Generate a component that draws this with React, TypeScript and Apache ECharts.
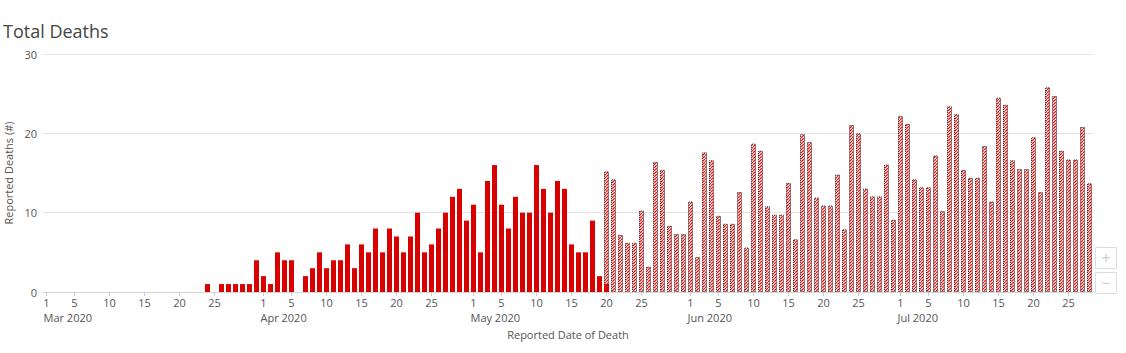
import React, { useEffect, useRef } from "react";
import * as echarts from "echarts";

const START = new Date(Date.UTC(2020, 2, 1));
const DAY_COUNT = 150; // Mar 1 .. Jul 28, 2020
const MONTH_NAMES = ["Jan", "Feb", "Mar", "Apr", "May", "Jun", "Jul", "Aug", "Sep", "Oct", "Nov", "Dec"];
const LABEL_DAYS = [1, 5, 10, 15, 20, 25];

const categories: string[] = [];
for (let i = 0; i < DAY_COUNT; i++) {
  const d = new Date(START.getTime() + i * 86400000);
  categories.push(d.toISOString().slice(0, 10));
}

// Confirmed deaths (solid), Mar 1 .. May 20
const confirmedMar = [
  0, 0, 0, 0, 0, 0, 0, 0, 0, 0, 0, 0, 0, 0, 0, 0, 0, 0, 0, 0, 0, 0, 0,
  1, 0, 1, 1, 1, 1, 1, 4,
];
const confirmedApr = [
  2, 1, 5, 4, 4, 0, 2, 3, 5, 3, 4, 4, 6, 3, 6, 5, 8, 5, 8, 7, 5, 7, 10, 5, 6, 8, 10, 12, 13, 9,
];
const confirmedMay = [11, 5, 14, 16, 11, 8, 12, 10, 10, 16, 13, 10, 14, 13, 6, 5, 5, 9, 2, 1];

// Estimated deaths (hatched), May 20 .. Jul 28
const estimatedMay = [15.2, 14.2, 7.2, 6.2, 6.2, 10.25, 3.2, 16.4, 15.4, 8.35, 7.3, 7.3];
const estimatedJun = [
  11.4, 4.4, 17.6, 16.6, 9.6, 8.6, 8.6, 12.6, 5.6, 18.7, 17.8, 10.8, 9.75, 9.75, 13.75,
  6.65, 19.9, 18.9, 11.9, 10.9, 10.9, 14.8, 7.9, 21.05, 20.0, 13.05, 12.05, 12.05, 16.05, 9.1,
];
const estimatedJul = [
  22.2, 21.2, 14.2, 13.2, 13.2, 17.2, 10.2, 23.4, 22.4, 15.4, 14.4, 14.4, 18.4, 11.4,
  24.5, 23.6, 16.6, 15.5, 15.5, 19.5, 12.6, 25.8, 24.7, 17.8, 16.7, 16.7, 20.8, 13.7,
];

const yTicks = { min: 0, max: 30, interval: 10 };

const confirmedAll = [...confirmedMar, ...confirmedApr, ...confirmedMay];
const estimatedAll = [...estimatedMay, ...estimatedJun, ...estimatedJul];

const confirmedData: (number | null)[] = categories.map((_, i) =>
  i < confirmedAll.length && confirmedAll[i] > 0 ? confirmedAll[i] : null
);
const estStart = confirmedAll.length - 1; // May 20
const estimatedData: (number | null)[] = categories.map((_, i) =>
  i >= estStart && i - estStart < estimatedAll.length ? estimatedAll[i - estStart] : null
);

function makePattern(): string {
  const c = document.createElement("canvas");
  c.width = 3;
  c.height = 3;
  const ctx = c.getContext("2d")!;
  ctx.fillStyle = "#ffffff";
  ctx.fillRect(0, 0, 3, 3);
  ctx.strokeStyle = "#ee1111";
  ctx.lineWidth = 1.3;
  ctx.beginPath();
  ctx.moveTo(-1, 4);
  ctx.lineTo(4, -1);
  ctx.stroke();
  return c.toDataURL();
}

const FONT = "Open Sans";

export default function App() {
  const ref = useRef<HTMLDivElement>(null);
  useEffect(() => {
    document.body.style.margin = "0";
    if (!ref.current) return;
    const chart = echarts.init(ref.current, undefined, { renderer: "svg" });
    const patternImg = makePattern();
    const dayOf = (v: string) => parseInt(v.slice(8, 10), 10);
    chart.setOption({
      animation: false,
      textStyle: { fontFamily: FONT },
      title: {
        text: "Total Deaths",
        left: -2,
        top: 17,
        textStyle: { fontFamily: FONT, fontSize: 18, fontWeight: "normal", color: "#444" },
      },
      grid: {
        left: 43,
        right: 33,
        top: 54,
        bottom: 61,
        containLabel: false,
        outerBoundsMode: "none",
      },
      xAxis: [
        {
          type: "category",
          data: categories,
          boundaryGap: true,
          name: "Reported Date of Death",
          nameLocation: "middle",
          nameGap: 37,
          nameTextStyle: { fontFamily: FONT, fontSize: 11, color: "#555" },
          axisLine: { show: true, lineStyle: { color: "#d6d6d6", width: 1 } },
          axisTick: {
            show: true,
            alignWithLabel: true,
            length: 4,
            interval: (_i: number, v: string) => LABEL_DAYS.includes(dayOf(v)),
            lineStyle: { color: "#cccccc" },
          },
          axisLabel: {
            interval: (_i: number, v: string) => LABEL_DAYS.includes(dayOf(v)),
            formatter: (v: string) => String(dayOf(v)),
            fontFamily: FONT,
            fontSize: 11,
            color: "#555",
            margin: 5,
          },
          splitLine: { show: false },
        },
        {
          type: "category",
          data: categories,
          boundaryGap: true,
          position: "bottom",
          axisLine: { show: false },
          axisTick: { show: false },
          axisLabel: {
            interval: (_i: number, v: string) => dayOf(v) === 1,
            formatter: (v: string) => {
              const m = parseInt(v.slice(5, 7), 10) - 1;
              return MONTH_NAMES[m] + " " + v.slice(0, 4);
            },
            align: "left",
            fontFamily: FONT,
            fontSize: 11,
            color: "#555",
            margin: 20,
            padding: [0, 0, 0, -3],
          },
          splitLine: { show: false },
        },
      ],
      yAxis: {
        type: "value",
        min: yTicks.min,
        max: yTicks.max,
        interval: yTicks.interval,
        name: "Reported Deaths (#)",
        nameLocation: "middle",
        nameRotate: 90,
        nameGap: 25,
        nameTextStyle: { fontFamily: FONT, fontSize: 11, color: "#555" },
        axisLine: { show: false },
        axisTick: { show: false },
        axisLabel: { fontFamily: FONT, fontSize: 11, color: "#555", margin: 6 },
        splitLine: { show: true, lineStyle: { color: "#e3e3e3", width: 1 } },
      },
      graphic: [
        {
          type: "rect",
          shape: { x: 1095.5, y: 247.5, width: 21, height: 21 },
          style: { fill: "#fff", stroke: "#dddddd", lineWidth: 1 },
        },
        {
          type: "text",
          x: 1106,
          y: 258,
          style: {
            text: "+",
            fill: "#cccccc",
            fontSize: 16,
            fontFamily: FONT,
            align: "center",
            verticalAlign: "middle",
          },
        },
        {
          type: "rect",
          shape: { x: 1095.5, y: 272.5, width: 21, height: 21 },
          style: { fill: "#fff", stroke: "#dddddd", lineWidth: 1 },
        },
        {
          type: "text",
          x: 1106,
          y: 283,
          style: {
            text: "\u2212",
            fill: "#cccccc",
            fontSize: 16,
            fontFamily: FONT,
            align: "center",
            verticalAlign: "middle",
          },
        },
      ],
      series: [
        {
          name: "Estimated",
          type: "bar",
          data: estimatedData,
          barWidth: 5,
          barGap: "-100%",
          itemStyle: {
            color: { image: patternImg, repeat: "repeat" },
            borderColor: "#222",
            borderWidth: 1,
            borderType: "dotted",
          },
        },
        {
          name: "Confirmed",
          type: "bar",
          data: confirmedData,
          barWidth: 5,
          barGap: "-100%",
          itemStyle: { color: "#d90000" },
        },
      ],
    });
    return () => chart.dispose();
  }, []);
  return <div ref={ref} style={{ width: 1126, height: 353 }} />;
}
